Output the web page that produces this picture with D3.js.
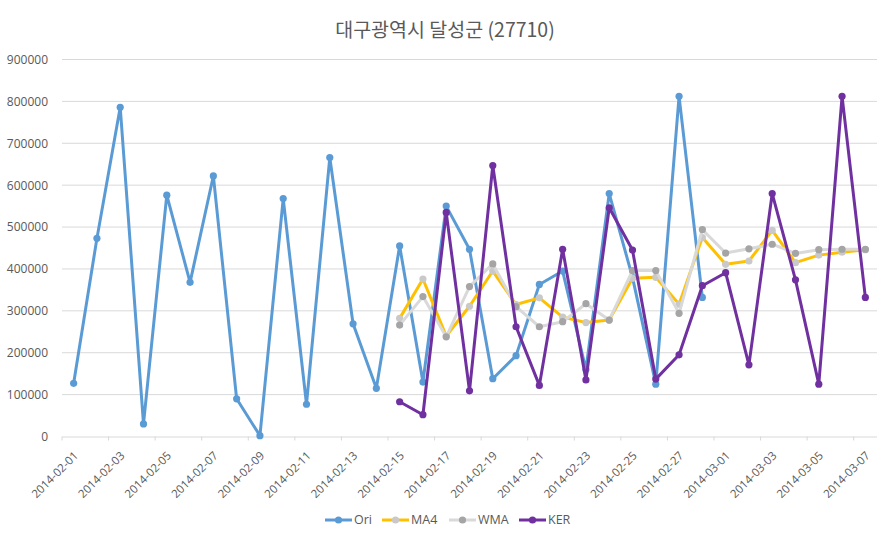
<!DOCTYPE html>
<html>
<head>
<meta charset="utf-8">
<script src="https://cdn.jsdelivr.net/npm/d3@7/dist/d3.min.js"></script>
<style>
  html, body { margin: 0; padding: 0; background: #fff; }
  svg { display: block; }
  text { font-family: "Open Sans", "Noto Sans CJK KR", sans-serif; fill: #595959; }
</style>
</head>
<body>
<svg id="chart" width="890" height="542"></svg>
<script>
const title = "대구광역시 달성군 (27710)";
const categories = [
  "2014-02-01","2014-02-02","2014-02-03","2014-02-04","2014-02-05","2014-02-06","2014-02-07",
  "2014-02-08","2014-02-09","2014-02-10","2014-02-11","2014-02-12","2014-02-13","2014-02-14",
  "2014-02-15","2014-02-16","2014-02-17","2014-02-18","2014-02-19","2014-02-20","2014-02-21",
  "2014-02-22","2014-02-23","2014-02-24","2014-02-25","2014-02-26","2014-02-27","2014-02-28",
  "2014-03-01","2014-03-02","2014-03-03","2014-03-04","2014-03-05","2014-03-06","2014-03-07"
];
const ori = [127000, 473000, 786000, 30000, 576000, 368000, 622000, 90000, 2000, 568000,
  77000, 666000, 269000, 115000, 455000, 130000, 550000, 447000, 138000, 193000,
  363000, 395000, 160000, 580000, 380000, 125000, 812000, 332000,
  null, null, null, null, null, null, null];
const ma4 = [null, null, null, null, null, null, null, null, null, null, null, null, null, null,
  282000, 376000, 240000, 311000, 395000, 315000, 331000, 285000, 272000, 278000,
  378000, 380000, 316000, 475000, 411000, 419000, 492000, 415000, 433000, 440000, 446000];
const wma = [null, null, null, null, null, null, null, null, null, null, null, null, null, null,
  266000, 334000, 238000, 358000, 412000, 310000, 262000, 274000, 317000, 278000,
  396000, 396000, 294000, 494000, 438000, 448000, 459000, 437000, 446000, 447000, 447000];
const ker = [null, null, null, null, null, null, null, null, null, null, null, null, null, null,
  83000, 52000, 535000, 109000, 647000, 262000, 122000, 447000, 135000, 546000,
  445000, 137000, 195000, 360000, 391000, 171000, 580000, 374000, 125000, 812000, 332000];
const yTicks = [0, 100000, 200000, 300000, 400000, 500000, 600000, 700000, 800000, 900000];

const seriesList = [
  { name: "Ori", values: ori, line: "#5b9bd5", marker: "#5b9bd5" },
  { name: "MA4", values: ma4, line: "#ffc000", marker: "#c9c9c9" },
  { name: "WMA", values: wma, line: "#d9d9d9", marker: "#a5a5a5" },
  { name: "KER", values: ker, line: "#7030a0", marker: "#7030a0" }
];

(function () {
const svg = d3.select("#chart");
const pLeft = 62, pRight = 877, pTop = 59.5, pBottom = 436.5;

const x = d3.scaleBand().domain(categories).range([pLeft, pRight]).padding(0);
const y = d3.scaleLinear().domain([0, 900000]).range([pBottom, pTop]);

// title
svg.append("text").attr("x", 445).attr("y", 37).attr("text-anchor", "middle")
  .style("font-size", "19.5px").style("font-family", "'Noto Sans CJK KR', sans-serif")
  .text(title);

// gridlines
svg.append("g").selectAll("line").data(yTicks.filter(d => d > 0)).join("line")
  .attr("x1", pLeft).attr("x2", pRight)
  .attr("y1", d => y(d)).attr("y2", d => y(d))
  .attr("stroke", "#d9d9d9").attr("stroke-width", 1);

// y axis labels
const yAxis = d3.axisLeft(y).tickValues(yTicks).tickSize(0).tickPadding(14).tickFormat(d3.format("d"));
const gy = svg.append("g").attr("transform", `translate(${pLeft},0)`).call(yAxis);
gy.select(".domain").remove();
gy.selectAll("text").style("font-size", "12px").style("fill", "#595959");

// x axis
const tickCats = categories.filter((d, i) => i % 2 === 0);
const xAxis = d3.axisBottom(x).tickValues(tickCats).tickSize(4).tickSizeOuter(0);
const gx = svg.append("g").attr("transform", `translate(0,${pBottom})`).call(xAxis);
gx.selectAll(".tick").attr("transform", d => `translate(${x(d)},0)`);
gx.select(".domain").attr("stroke", "#d9d9d9").attr("d", `M${pLeft},0.5H${pRight}`);
gx.selectAll(".tick line").attr("stroke", "#d9d9d9");
gx.selectAll(".tick text")
  .style("font-size", "11.5px").style("fill", "#595959")
  .attr("text-anchor", "end")
  .attr("transform", "translate(14,17) rotate(-45)")
  .attr("dy", "0.35em").attr("y", 0).attr("x", 0);

// lines
const cx = d => x(d) + x.bandwidth() / 2;
seriesList.forEach(s => {
  const pts = categories.map((c, i) => ({ c, v: s.values[i] }));
  const line = d3.line().defined(p => p.v !== null).x(p => cx(p.c)).y(p => y(p.v));
  const g = svg.append("g");
  g.append("path").datum(pts).attr("d", line)
    .attr("fill", "none").attr("stroke", s.line).attr("stroke-width", 3)
    .attr("stroke-linejoin", "round");
  g.selectAll("circle").data(pts.filter(p => p.v !== null)).join("circle")
    .attr("cx", p => cx(p.c)).attr("cy", p => y(p.v)).attr("r", 3.6)
    .attr("fill", s.marker);
});

// legend
const legendX = [325, 382, 449, 519];
const lg = svg.append("g");
seriesList.forEach((s, i) => {
  const lx = legendX[i], ly = 520;
  lg.append("line").attr("x1", lx).attr("x2", lx + 27).attr("y1", ly).attr("y2", ly)
    .attr("stroke", s.line).attr("stroke-width", 3);
  lg.append("circle").attr("cx", lx + 13.5).attr("cy", ly).attr("r", 3.6).attr("fill", s.marker);
  lg.append("text").attr("x", lx + 29).attr("y", ly).attr("dy", "0.35em")
    .style("font-size", "12.5px").text(s.name);
});
})();
</script>
</body>
</html>
